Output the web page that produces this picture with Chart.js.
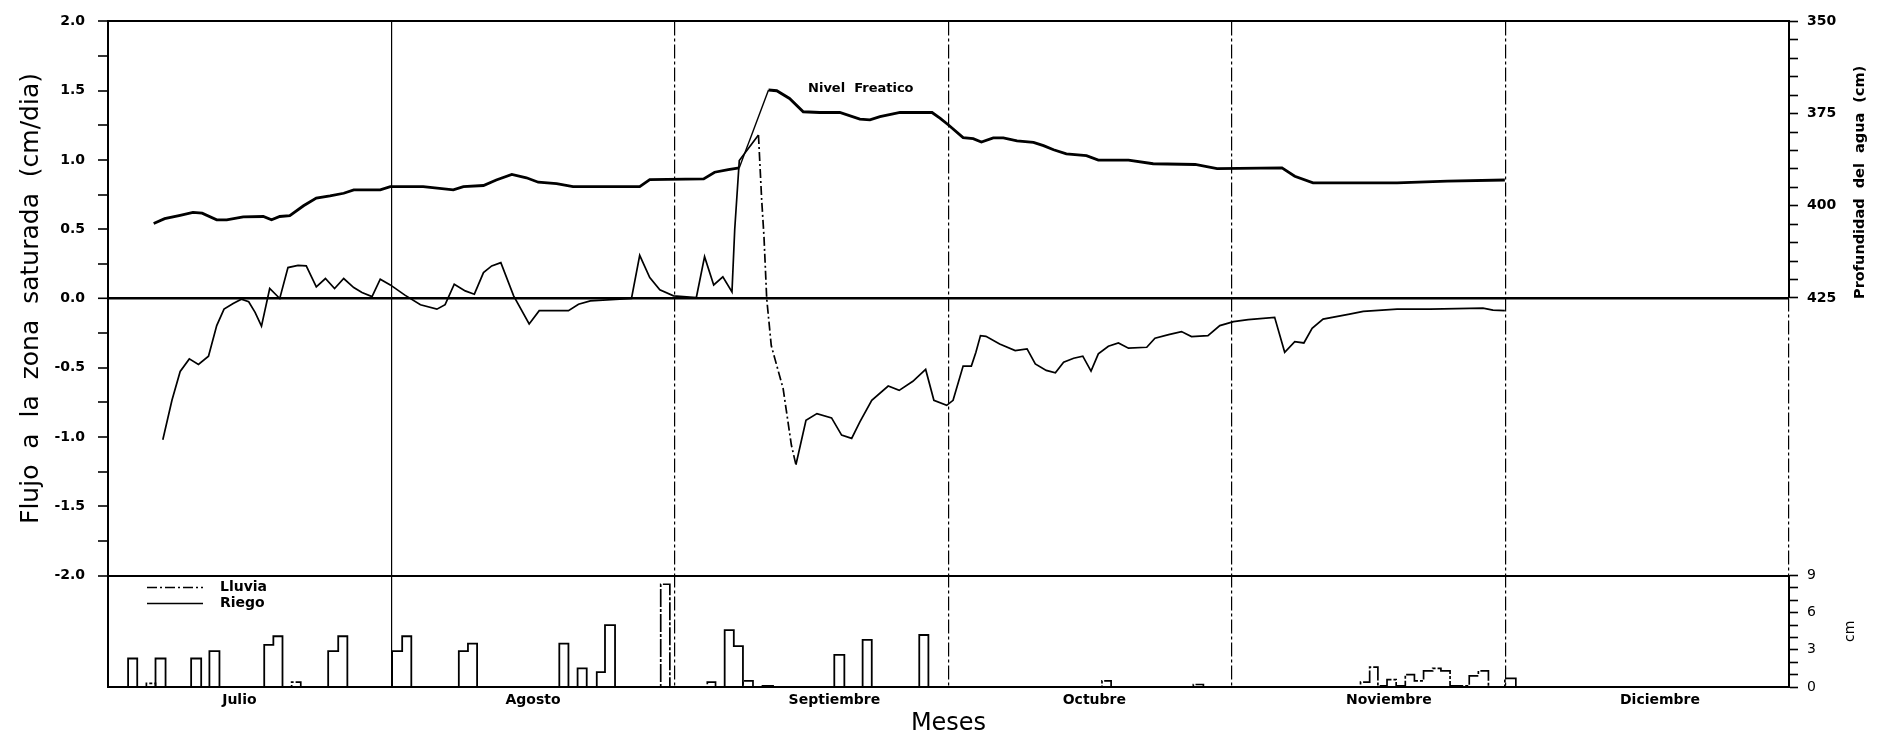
<!DOCTYPE html>
<html>
<head>
<meta charset="utf-8">
<script src="https://cdn.jsdelivr.net/npm/chart.js@4.4.1/dist/chart.umd.min.js"></script>
<style>
html,body{margin:0;padding:0;background:#fff;}
canvas{display:block;}
</style>
</head>
<body>
<canvas id="c" width="1877" height="738"></canvas>
<script>
// ---------------- datos ----------------
const meses = ['Julio', 'Agosto', 'Septiembre', 'Octubre', 'Noviembre', 'Diciembre'];
const inicioMes = [0, 31, 62, 92, 123, 153, 184];   // día 0 = 1 de julio

// Nivel freático: profundidad del agua (cm)
const nivelDia = [5.0, 6.2, 7.9, 9.3, 10.3, 11.9, 13.0, 14.8, 17.0, 17.9, 18.8, 19.9, 21.4, 22.8, 24.3, 25.8, 26.9, 29.8, 30.9,
  34.5, 37.8, 38.9, 41.1, 42.5, 44.2, 45.8, 47.1, 49.1, 50.9, 58.2, 59.3, 65.2, 66.4, 67.9, 69.1, 72.3, 73.2, 74.6, 76.1,
  77.9, 80.1, 82.3, 83.4, 84.5, 86.7, 90.2, 91.1, 92.0, 93.6, 94.7, 95.6, 96.9, 98.0, 99.5, 101.3, 102.4, 103.5, 104.9,
  107.1, 108.4, 111.7, 114.4, 119.0, 121.4, 128.5, 129.9, 131.9, 137.8, 141.1, 146.6, 152.9];
const nivelProf = [404.8, 403.5, 402.6, 401.8, 402.0, 403.8, 403.8, 403.0, 402.9, 403.8, 402.9, 402.7, 400.0, 397.9, 397.3, 396.6, 395.7, 395.7, 394.8,
  394.8, 395.7, 394.8, 394.5, 393.0, 391.5, 392.4, 393.6, 394.0, 394.8, 394.8, 392.9, 392.7, 390.9, 390.2, 389.7, 368.6, 368.8, 370.9, 374.5,
  374.7, 374.7, 376.5, 376.7, 375.8, 374.7, 374.7, 376.3, 378.1, 381.5, 381.8, 382.7, 381.6, 381.6, 382.4, 382.8, 383.7, 384.8, 385.9,
  386.4, 387.6, 387.6, 388.6, 388.8, 389.9, 389.7, 392.0, 393.8, 393.8, 393.8, 393.3, 393.0];

// Flujo a la zona saturada (cm/día)
const flujoDia = [6.0, 7.0, 7.9, 8.9, 9.9, 11.0, 11.9, 12.7, 13.7, 14.6, 15.4, 16.1, 16.8, 17.7, 18.8, 19.7, 20.8, 21.7, 22.8,
  23.8, 24.8, 25.8, 26.9, 27.8, 28.9, 29.8, 30.9, 32.5, 34.2, 36.0, 36.9, 37.9, 39.1, 40.1, 41.1, 42.0, 43.0, 44.4, 46.1,
  47.2, 50.4, 51.5, 52.8, 57.3, 58.2, 59.3, 60.4, 61.9, 64.4, 65.3, 66.3, 67.3, 68.3, 68.6, 69.1, 71.2, 71.55, 71.8, 72.1,
  72.6, 73.9, 74.8, 75.3, 76.4, 77.6, 79.2, 80.3, 81.4, 82.3, 83.6, 85.4, 86.6, 88.1, 89.5, 90.4, 91.8, 92.5, 93.6, 94.5,
  95.0, 95.5, 96.1, 97.6, 99.3, 100.6, 101.5, 102.7, 103.7, 104.6, 105.7, 106.7, 107.6, 108.4, 109.5, 110.6, 111.7, 113.7,
  114.6, 116.1, 117.5, 118.6, 120.4, 121.7, 123.2, 124.8, 127.7, 128.8, 129.9, 130.9, 131.8, 133.0, 135.9, 137.4, 141.1,
  144.7, 150.5, 151.6, 152.9];
const flujoVal = [-1.02, -0.735, -0.527, -0.436, -0.476, -0.417, -0.196, -0.077, -0.036, -0.005, -0.024, -0.10, -0.20, 0.072, 0.0, 0.223, 0.239, 0.235, 0.084,
  0.144, 0.072, 0.144, 0.079, 0.043, 0.014, 0.139, 0.098, 0.024, -0.045, -0.077, -0.045, 0.103, 0.055, 0.031, 0.187, 0.235, 0.259, 0.019, -0.184,
  -0.088, -0.088, -0.041, -0.017, 0.0, 0.311, 0.151, 0.062, 0.019, 0.007, 0.302, 0.098, 0.156, 0.048, 0.498, 0.996, 1.18, 0.713, 0.45, 0.0,
  -0.34, -0.651, -1.058, -1.20, -0.879, -0.831, -0.862, -0.986, -1.01, -0.89, -0.735, -0.632, -0.663, -0.598, -0.512, -0.735, -0.771, -0.735, -0.488, -0.488,
  -0.388, -0.268, -0.273, -0.328, -0.376, -0.364, -0.472, -0.519, -0.536, -0.460, -0.431, -0.416, -0.524, -0.40, -0.345, -0.321, -0.359, -0.352,
  -0.287, -0.261, -0.239, -0.275, -0.268, -0.196, -0.167, -0.153, -0.136, -0.388, -0.311, -0.321, -0.215, -0.149, -0.113, -0.093, -0.077,
  -0.077, -0.070, -0.084, -0.088];

// Riego (cm): día de inicio, día de fin, lámina
const riegoIni = [2.2, 5.2, 9.1, 11.1, 17.1, 18.1, 24.1, 25.2, 31.1, 32.2, 38.4, 39.4, 49.4, 51.4, 53.5, 54.4, 67.5, 68.5, 79.5, 82.6, 88.8];
const riegoFin = [3.2, 6.3, 10.2, 12.2, 18.1, 19.1, 25.2, 26.2, 32.2, 33.2, 39.4, 40.4, 50.4, 52.4, 54.4, 55.5, 68.5, 69.5, 80.6, 83.6, 89.8];
const riegoCm  = [2.3, 2.3, 2.3, 2.9, 3.4, 4.1, 2.9, 4.1, 2.9, 4.1, 2.9, 3.5, 3.5, 1.5, 1.2, 5.0, 4.6, 3.3, 2.6, 3.8, 4.2];

// Lluvia (cm)
const lluviaIni = [4.2, 20.1, 60.5, 65.6, 69.5, 71.5, 108.8, 118.8, 137.1, 138.1, 139.0, 140.0, 141.0, 142.0, 143.0, 144.0, 145.0, 145.9, 146.9, 149.0, 150.0, 152.9];
const lluviaFin = [5.2, 21.1, 61.5, 66.5, 70.6, 72.8, 109.8, 119.9, 138.1, 139.0, 140.0, 141.0, 142.0, 143.0, 144.0, 145.0, 145.9, 146.9, 149.0, 150.0, 151.1, 154.1];
const lluviaCm  = [0.3, 0.4, 8.3, 0.4, 0.5, 0.1, 0.5, 0.2, 0.4, 1.6, 0.1, 0.6, 0.1, 1.0, 0.5, 1.3, 1.5, 1.3, 0.1, 0.9, 1.3, 0.7];

// ---------------- construcción ----------------
const NEGRO = '#000';
const FAM = 'DejaVu Sans';
const TRANSP = 'rgba(0,0,0,0)';
Chart.defaults.font.family = FAM;
Chart.defaults.color = NEGRO;

function puntos(xs, ys) { return xs.map((x, i) => ({x: x, y: ys[i]})); }
function escalones(ini, fin, cm) {
  const pts = [{x: inicioMes[0], y: 0}];
  for (let i = 0; i < ini.length; i++) {
    pts.push({x: ini[i], y: cm[i]});
    const sig = ini[i + 1];
    if (sig === undefined || Math.abs(sig - fin[i]) > 0.05) pts.push({x: fin[i], y: 0});
  }
  pts.push({x: inicioMes[inicioMes.length - 1], y: 0});
  return pts;
}
const DESFASE_ETIQ = 12.5;
const posEtiq = meses.map((m, i) => inicioMes[i] + DESFASE_ETIQ);
const ticksX = inicioMes.concat(posEtiq).sort((a, b) => a - b);
const esLimite = v => inicioMes.some(b => Math.abs(b - v) < 1e-6);
const etiquetaMes = v => { const i = posEtiq.findIndex(p => Math.abs(p - v) < 1e-6); return i >= 0 ? meses[i] : ''; };

const textos = {
  id: 'textos',
  afterDraw(chart) {
    const {ctx, chartArea: a, scales: s} = chart;
    ctx.save();
    ctx.fillStyle = NEGRO;
    ctx.strokeStyle = NEGRO;
    // etiqueta de la curva
    ctx.font = 'bold 13px "' + FAM + '"';
    ctx.textAlign = 'center';
    ctx.textBaseline = 'middle';
    ctx.fillText('Nivel  Freatico', s.x.getPixelForValue(82.4), s.yProf.getPixelForValue(368.1));
    // título eje derecho superior
    ctx.save();
    ctx.translate(a.right + 71, s.yProf.getPixelForValue(425) + 1);
    ctx.rotate(-Math.PI / 2);
    ctx.textAlign = 'left';
    ctx.font = 'bold 14.5px "' + FAM + '"';
    ctx.fillText('Profundidad  del  agua  (cm)', 0, 0);
    ctx.restore();
    // título eje derecho inferior
    ctx.save();
    ctx.translate(a.right + 61, (s.yCm.top + s.yCm.bottom) / 2);
    ctx.rotate(-Math.PI / 2);
    ctx.textAlign = 'center';
    ctx.font = '14px "' + FAM + '"';
    ctx.fillText('cm', 0, 0);
    ctx.restore();
    // leyenda
    const items = [chart.data.datasets[2], chart.data.datasets[3]];
    items.forEach((ds, k) => {
      const y = s.yCm.top + 12 + k * 16;
      ctx.save();
      ctx.lineWidth = 1.5;
      ctx.setLineDash(k === 0 ? [10, 3, 2, 3] : []);
      ctx.beginPath();
      ctx.moveTo(a.left + 39, y);
      ctx.lineTo(a.left + 95, y);
      ctx.stroke();
      ctx.restore();
      ctx.font = 'bold 14px "' + FAM + '"';
      ctx.textAlign = 'left';
      ctx.fillText(ds.label, a.left + 112, y);
    });
    ctx.restore();
  }
};

new Chart(document.getElementById('c'), {
  type: 'line',
  data: {
    datasets: [
      {
        label: 'Nivel Freatico',
        data: puntos(nivelDia, nivelProf),
        yAxisID: 'yProf',
        borderColor: NEGRO,
        borderWidth: 2.8,
        segment: { borderWidth: c => (c.p0.parsed.x >= 69 && c.p1.parsed.x <= 72.5) ? 1.4 : undefined }
      },
      {
        label: 'Flujo',
        data: puntos(flujoDia, flujoVal),
        yAxisID: 'yFlujo',
        borderColor: NEGRO,
        borderWidth: 1.7,
        segment: { borderDash: c => (c.p0.parsed.x >= 71.1 && c.p1.parsed.x <= 75.4) ? [9, 3, 2, 3] : undefined }
      },
      {
        label: 'Lluvia',
        data: escalones(lluviaIni, lluviaFin, lluviaCm),
        yAxisID: 'yCm',
        stepped: true,
        borderColor: NEGRO,
        borderWidth: 1.7,
        borderDash: [18, 2, 3, 2]
      },
      {
        label: 'Riego',
        data: escalones(riegoIni, riegoFin, riegoCm),
        yAxisID: 'yCm',
        stepped: true,
        borderColor: NEGRO,
        borderWidth: 1.8
      }
    ]
  },
  options: {
    responsive: false,
    animation: false,
    devicePixelRatio: 1,
    layout: { padding: { top: 18, left: 0, right: 0, bottom: 0 } },
    plugins: { legend: { display: false }, tooltip: { enabled: false } },
    elements: { point: { radius: 0 }, line: { tension: 0, fill: false } },
    scales: {
      x: {
        type: 'linear', position: 'bottom', min: 0, max: 184,
        afterFit: s => { s.height = 51; },
        afterBuildTicks: s => { s.ticks = ticksX.map(v => ({value: v})); },
        grid: {
          color: c => (c.tick && esLimite(c.tick.value) && c.tick.value > 0) ? NEGRO : TRANSP,
          lineWidth: 1.2,
          drawTicks: false
        },
        border: { display: true, color: NEGRO, width: 2, dash: c => (!c.tick || c.tick.value === 31) ? [] : [14, 3, 3, 3] },
        ticks: {
          autoSkip: false, maxRotation: 0, minRotation: 0, align: 'start', padding: 5, color: NEGRO,
          font: { family: FAM, size: 14, weight: 'bold' },
          callback: v => etiquetaMes(v)
        },
        title: { display: true, text: 'Meses', color: NEGRO, font: { family: FAM, size: 24 }, padding: { top: 0, bottom: 0 } }
      },
      yFlujo: {
        type: 'linear', position: 'left', stack: 'izq', stackWeight: 557, weight: 1,
        min: -2, max: 2,
        afterFit: s => { s.width = 108; },
        ticks: {
          stepSize: 0.25, autoSkip: false, padding: 13, color: NEGRO,
          font: { family: FAM, size: 14, weight: 'bold' },
          callback: v => (Math.abs(v * 2 - Math.round(v * 2)) < 1e-6) ? v.toFixed(1) : ''
        },
        grid: {
          color: c => (c.tick && (c.tick.value === 0 || c.tick.value === 2 || c.tick.value === -2)) ? NEGRO : TRANSP,
          lineWidth: c => (c.tick && c.tick.value === 0) ? 2.6 : 2,
          tickColor: NEGRO, tickWidth: 1.6, tickLength: 10
        },
        border: { display: true, color: NEGRO, width: 2 },
        title: { display: true, text: 'Flujo  a  la  zona  saturada  (cm/dia)', color: NEGRO, font: { family: FAM, size: 25 }, padding: { top: 16, bottom: 0 } }
      },
      yIzqBajo: {
        type: 'linear', position: 'left', stack: 'izq', stackWeight: 112, weight: 0,
        min: 0, max: 1,
        afterFit: s => { s.width = 108; },
        ticks: { display: false },
        grid: { display: false, drawTicks: false },
        border: { display: true, color: NEGRO, width: 2 }
      },
      yProf: {
        type: 'linear', position: 'right', stack: 'der', stackWeight: 278, weight: 0,
        min: 350, max: 425, reverse: true,
        afterFit: s => { s.width = 88; },
        ticks: {
          stepSize: 5, autoSkip: false, padding: 9, color: NEGRO,
          font: { family: FAM, size: 14, weight: 'bold' },
          callback: v => (v % 25 === 0) ? String(v) : ''
        },
        grid: { drawOnChartArea: false, tickColor: NEGRO, tickWidth: 1.6, tickLength: 9 },
        border: { display: true, color: NEGRO, width: 2 }
      },
      yDerMedio: {
        type: 'linear', position: 'right', stack: 'der', stackWeight: 279, weight: 1,
        min: 0, max: 1,
        afterFit: s => { s.width = 88; },
        ticks: { display: false },
        grid: { display: false, drawTicks: false },
        border: { display: false }
      },
      yCm: {
        type: 'linear', position: 'right', stack: 'der', stackWeight: 112, weight: 2,
        min: 0, max: 9,
        afterFit: s => { s.width = 88; },
        ticks: {
          stepSize: 1, autoSkip: false, padding: 9, color: NEGRO,
          font: { family: FAM, size: 14 },
          callback: v => (v % 3 === 0) ? String(v) : ''
        },
        grid: { drawOnChartArea: false, tickColor: NEGRO, tickWidth: 1.6, tickLength: 9 },
        border: { display: true, color: NEGRO, width: 2 }
      }
    }
  },
  plugins: [textos]
});
</script>
</body>
</html>
